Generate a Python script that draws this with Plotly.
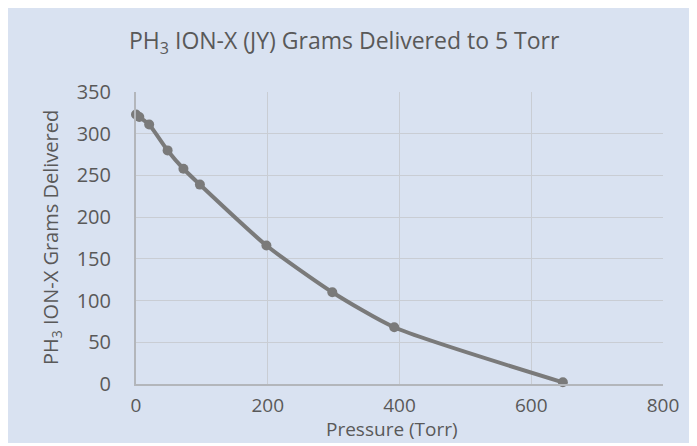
import plotly.graph_objects as go

pressure = [0, 5, 20, 48, 72, 97, 198, 298, 392, 648]
grams = [323, 320, 311, 280, 258, 239, 166, 110, 68, 2]
x_ticks = [0, 200, 400, 600, 800]
y_ticks = [0, 50, 100, 150, 200, 250, 300, 350]

BG = "#d9e2f1"
TXT = "#595959"
FONT = "Open Sans"

# page body has an 8px margin, so the figure sits at (8, 8) in the window
W, H = 689, 435
L, R, T, B = 128, 34, 84, 59
pw, ph = W - L - R, H - T - B


def px(xp):
    return (xp - L) / pw


def py(yp):
    return (H - B - yp) / ph


fig = go.Figure()
fig.add_trace(go.Scatter(
    x=pressure, y=grams, mode="lines+markers",
    line=dict(color="#7a7a7a", width=4, shape="spline", smoothing=0.6),
    marker=dict(color="#7a7a7a", size=10),
    cliponaxis=False, showlegend=False,
))

fig.add_annotation(text="PH<sub>3</sub> ION-X (JY) Grams Delivered to 5 Torr",
                   xref="paper", yref="paper", x=px(336), y=py(33),
                   xanchor="center", yanchor="middle", showarrow=False,
                   font=dict(size=23, color=TXT, family=FONT))
fig.add_annotation(text="Pressure (Torr)",
                   xref="paper", yref="paper", x=px(384), y=py(H),
                   xanchor="center", yanchor="bottom", showarrow=False,
                   borderpad=0,
                   font=dict(size=19, color=TXT, family=FONT))
fig.add_annotation(text="PH<sub>3</sub> ION-X Grams Delivered",
                   xref="paper", yref="paper", x=px(43), y=py(230),
                   xanchor="center", yanchor="middle", showarrow=False,
                   textangle=-90,
                   font=dict(size=20, color=TXT, family=FONT))

fig.update_layout(
    width=W, height=H,
    margin=dict(l=L, r=R, t=T, b=B),
    paper_bgcolor=BG, plot_bgcolor=BG,
    font=dict(family=FONT, color=TXT, size=18),
    xaxis=dict(range=[0, 800], tickvals=x_ticks, showgrid=True, gridcolor="#c9cdd4",
               gridwidth=1.2, showline=True, linecolor="#b3b6bb", linewidth=1.5,
               zeroline=False, ticks="", ticklabelstandoff=3, automargin=False,
               tickfont=dict(size=19, color=TXT)),
    yaxis=dict(range=[0, 350], tickvals=y_ticks, showgrid=True, gridcolor="#c9cdd4",
               gridwidth=1.2, showline=True, linecolor="#b3b6bb", linewidth=2,
               zeroline=False, ticks="", ticklabelstandoff=19, automargin=False,
               tickfont=dict(size=20, color=TXT)),
)

fig.write_html("out.html")
